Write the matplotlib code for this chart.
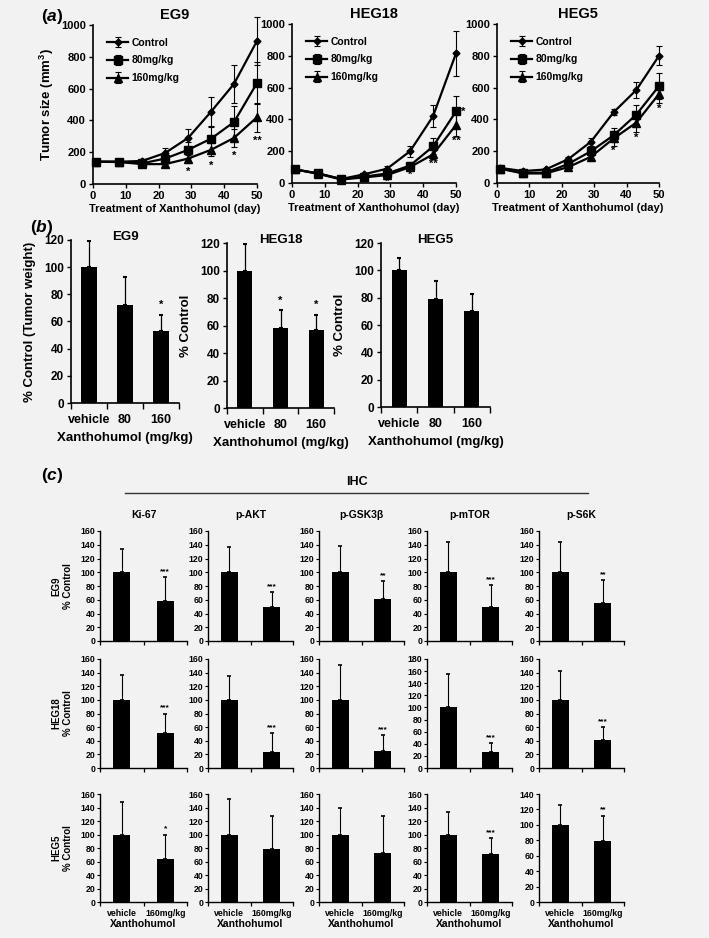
import numpy as np
import matplotlib
matplotlib.use('Agg')
import matplotlib.pyplot as plt
from matplotlib.lines import Line2D

plt.rcParams['font.family'] = ['Liberation Sans', 'DejaVu Sans']
plt.rcParams['font.weight'] = 'bold'
plt.rcParams['axes.labelweight'] = 'bold'
plt.rcParams['axes.titleweight'] = 'bold'
plt.rcParams['mathtext.fontset'] = 'custom'
plt.rcParams['mathtext.rm'] = 'Liberation Sans:bold'
plt.rcParams['mathtext.it'] = 'Liberation Sans:italic:bold'
plt.rcParams['mathtext.bf'] = 'Liberation Sans:bold'

BG = '#f2f2f2'
W, H = 709, 938

# ---------------- (a) tumour growth ----------------
days = [1, 8, 15, 22, 29, 36, 43, 50]
groups = ['Control', '80mg/kg', '160mg/kg']

eg9_ctrl = [140, 140, 145, 195, 290, 455, 630, 900]
eg9_80 = [140, 140, 130, 160, 215, 285, 390, 635]
eg9_160 = [140, 138, 125, 125, 160, 215, 290, 420]
eg9_ctrl_err = [15, 15, 15, 30, 55, 90, 120, 150]
eg9_80_err = [15, 15, 15, 30, 50, 75, 100, 130]
eg9_160_err = [15, 15, 15, 20, 25, 40, 55, 90]
eg9_stars = ['', '', '', '', '*', '*', '*', '**']

heg18_ctrl = [85, 60, 25, 55, 90, 200, 420, 815]
heg18_80 = [85, 60, 25, 40, 60, 110, 230, 450]
heg18_160 = [85, 58, 22, 35, 50, 100, 180, 365]
heg18_ctrl_err = [10, 10, 5, 10, 15, 35, 70, 140]
heg18_80_err = [10, 10, 5, 8, 12, 20, 50, 100]
heg18_160_err = [10, 10, 5, 8, 10, 20, 30, 70]
heg18_stars = ['', '', '', '', '*', '*', '**', '**']

heg5_ctrl = [95, 75, 85, 150, 260, 445, 585, 800]
heg5_80 = [90, 65, 65, 120, 200, 300, 430, 610]
heg5_160 = [90, 60, 60, 100, 165, 280, 380, 560]
heg5_ctrl_err = [10, 10, 10, 15, 25, 20, 50, 60]
heg5_80_err = [10, 10, 10, 15, 30, 45, 60, 80]
heg5_160_err = [10, 10, 10, 15, 25, 45, 60, 60]
heg5_stars = ['', '', '', '', '', '*', '*', '*']

# ---------------- (b) tumour weight ----------------
weight_cats = ['vehicle', '80', '160']
eg9_weight = [100, 72, 53]
eg9_weight_err = [19, 21, 12]
eg9_weight_stars = ['', '', '*']
heg18_weight = [100, 58, 57]
heg18_weight_err = [19, 13, 11]
heg18_weight_stars = ['', '*', '*']
heg5_weight = [100, 79, 70]
heg5_weight_err = [9, 13, 13]
heg5_weight_stars = ['', '', '']

# ---------------- (c) IHC ----------------
ihc_cats = ['vehicle', '160mg/kg']
markers_ihc = ['Ki-67', 'p-AKT', 'p-GSK3\u03b2', 'p-mTOR', 'p-S6K']
lines_ihc = ['EG9', 'HEG18', 'HEG5']
ihc_treated = [[58, 49, 61, 49, 56],
               [51, 24, 25, 26, 41],
               [64, 78, 73, 71, 79]]
ihc_vehicle_err = [[34, 37, 38, 44, 44],
                   [36, 35, 51, 56, 43],
                   [48, 52, 39, 34, 26]]
ihc_treated_err = [[35, 22, 26, 32, 33],
                   [29, 27, 23, 16, 19],
                   [36, 49, 55, 24, 32]]
ihc_stars = [['***', '***', '**', '***', '**'],
             ['***', '***', '***', '***', '***'],
             ['*', '', '', '***', '**']]
ihc_ymax = [[160, 160, 160, 160, 160],
            [160, 160, 160, 180, 160],
            [160, 160, 160, 160, 140]]

fig = plt.figure(figsize=(W / 100, H / 100), dpi=100, facecolor=BG)


def add_ax(left, top, right, bottom):
    ax = fig.add_axes([left / W, 1 - bottom / H, (right - left) / W, (bottom - top) / H])
    ax.set_facecolor(BG)
    ax.spines['top'].set_visible(False)
    ax.spines['right'].set_visible(False)
    return ax


def panel_label(x, y, letter):
    fig.text(x / W, 1 - y / H, r'($\it{' + letter + '}$)', fontsize=12.5, ha='center', va='center')


# ---- panel a ----
a_boxes = [(93, 25, 257, 184), (292, 24, 456, 183), (497, 24, 659, 183)]
a_titles = ['EG9', 'HEG18', 'HEG5']
a_means = [[eg9_ctrl, eg9_80, eg9_160], [heg18_ctrl, heg18_80, heg18_160], [heg5_ctrl, heg5_80, heg5_160]]
a_errs = [[eg9_ctrl_err, eg9_80_err, eg9_160_err], [heg18_ctrl_err, heg18_80_err, heg18_160_err],
          [heg5_ctrl_err, heg5_80_err, heg5_160_err]]
a_stars = [eg9_stars, heg18_stars, heg5_stars]
a_star_off = [60, 30, 35]
mk = ['D', 's', '^']
ms = [3.5, 6, 6]

for i in range(3):
    ax = add_ax(*a_boxes[i])
    for g in range(3):
        ax.errorbar(days, a_means[i][g], yerr=a_errs[i][g], color='k', marker=mk[g], ms=ms[g],
                    lw=1.6, elinewidth=0.8, capsize=2, capthick=0.8, label=groups[g], clip_on=False)
    for d, lo, e, s in zip(days, a_means[i][2], a_errs[i][2], a_stars[i]):
        if s:
            ax.text(d, lo - e - a_star_off[i], s, ha='center', va='center', fontsize=8)
    ax.set_xlim(0, 50)
    ax.set_ylim(0, 1000)
    ax.set_xticks(range(0, 51, 10))
    ax.set_yticks(range(0, 1001, 200))
    ax.tick_params(direction='out', length=3, width=1, labelsize=8, pad=2)
    for sp in ['left', 'bottom']:
        ax.spines[sp].set_linewidth(1.2)
    ax.set_title(a_titles[i], fontsize=10.5, pad=4)
    ax.set_xlabel('Treatment of Xanthohumol (day)', fontsize=8, labelpad=2)
    ax.legend(loc='upper left', frameon=False, fontsize=7.5, handlelength=2.0, handletextpad=0.3,
              borderaxespad=0.2, labelspacing=0.75, bbox_to_anchor=(0.05, 0.96))
    if i == 0:
        ax.set_ylabel('Tumor size (mm$^3$)', fontsize=9.5, labelpad=4)
    if i == 1:
        ax.text(days[-1] + 1.5, heg18_80[-1], '*', ha='left', va='center', fontsize=8)

panel_label(52, 17, 'a')

# ---- panel b ----
b_boxes = [(71, 240, 179, 403), (227, 243, 334, 408), (381, 243, 490, 407)]
b_vals = [eg9_weight, heg18_weight, heg5_weight]
b_errs = [eg9_weight_err, heg18_weight_err, heg5_weight_err]
b_stars = [eg9_weight_stars, heg18_weight_stars, heg5_weight_stars]
b_ylabels = ['% Control (Tumor weight)', '% Control', '% Control']

for i in range(3):
    ax = add_ax(*b_boxes[i])
    x = np.arange(len(weight_cats)) + 0.5
    ax.bar(x, b_vals[i], width=0.42, color='k')
    ax.errorbar(x, b_vals[i], yerr=[np.zeros(3), b_errs[i]], fmt='none', ecolor='k',
                elinewidth=0.9, capsize=1.5, capthick=1.5)
    for xx, v, e, s in zip(x, b_vals[i], b_errs[i], b_stars[i]):
        if s:
            ax.text(xx, v + e + 7, s, ha='center', va='center', fontsize=8)
    ax.set_xlim(0, 3)
    ax.set_ylim(0, 120)
    ax.set_yticks(range(0, 121, 20))
    ax.set_xticks([0, 1, 2, 3])
    ax.set_xticklabels([])
    ax.set_xticks(x, minor=True)
    ax.set_xticklabels(weight_cats, minor=True)
    ax.tick_params(axis='x', which='minor', length=0, labelsize=9, pad=8)
    ax.tick_params(axis='x', which='major', direction='out', length=4, width=1)
    ax.tick_params(axis='y', direction='out', length=3, width=1, labelsize=8.5, pad=2)
    for sp in ['left', 'bottom']:
        ax.spines[sp].set_linewidth(1.2)
    ax.text(0.5, 1.02, a_titles[i], transform=ax.transAxes, fontsize=9.5, ha='center', va='center')
    ax.set_xlabel('Xanthohumol (mg/kg)', fontsize=9.5, labelpad=4)
    ax.set_ylabel(b_ylabels[i], fontsize=9.5, labelpad=6)

panel_label(42, 227, 'b')

# ---- panel c ----
c_cols = [(100, 187), (208, 293), (319, 404), (427, 512), (539, 624)]
c_rows = [(531, 641), (659, 768), (794, 902)]

for r in range(3):
    for c in range(5):
        ax = add_ax(c_cols[c][0], c_rows[r][0], c_cols[c][1], c_rows[r][1])
        x = np.arange(2) + 0.5
        vals = [100, ihc_treated[r][c]]
        errs = [ihc_vehicle_err[r][c], ihc_treated_err[r][c]]
        ax.bar(x, vals, width=0.39, color='k')
        ax.errorbar(x, vals, yerr=[np.zeros(2), errs], fmt='none', ecolor='k',
                    elinewidth=0.8, capsize=1.2, capthick=1.2)
        if ihc_stars[r][c]:
            ax.text(x[1], vals[1] + errs[1] + 8, ihc_stars[r][c], ha='center', va='center', fontsize=6)
        ax.set_xlim(0, 2)
        ax.set_ylim(0, ihc_ymax[r][c])
        ax.set_yticks(range(0, ihc_ymax[r][c] + 1, 20))
        ax.set_xticks([0, 1, 2])
        ax.set_xticklabels([])
        ax.tick_params(axis='x', which='major', direction='out', length=3, width=0.9)
        ax.tick_params(axis='y', direction='out', length=2, width=0.8, labelsize=6.3, pad=1.5)
        for sp in ['left', 'bottom']:
            ax.spines[sp].set_linewidth(1.0)
        if r == 0:
            ax.set_title(markers_ihc[c], fontsize=7.5, pad=9)
        if r == 2:
            ax.set_xticks(x, minor=True)
            ax.set_xticklabels(ihc_cats, minor=True)
            ax.tick_params(axis='x', which='minor', length=0, labelsize=6.3, pad=5)
            ax.set_xlabel('Xanthohumol', fontsize=7.5, labelpad=1)
        if c == 0:
            ax.set_ylabel(lines_ihc[r] + '\n% Control', fontsize=7, labelpad=5, linespacing=1.3)

fig.add_artist(Line2D([125 / W, 588 / W], [1 - 493 / H, 1 - 493 / H], color='#333333', lw=1.0))
fig.text(357 / W, 1 - 482 / H, 'IHC', fontsize=9, ha='center', va='center')
panel_label(52, 475, 'c')

fig.savefig('out.png', dpi=100, facecolor=BG)
